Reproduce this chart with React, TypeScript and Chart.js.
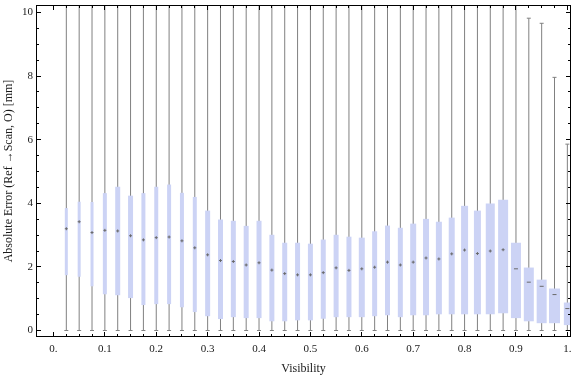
import React, { useEffect, useRef } from "react";
import { Chart, registerables } from "chart.js";

Chart.register(...registerables);

// ---- data ----
const visibility = [
  0.025, 0.05, 0.075, 0.1, 0.125, 0.15, 0.175, 0.2, 0.225, 0.25,
  0.275, 0.3, 0.325, 0.35, 0.375, 0.4, 0.425, 0.45, 0.475, 0.5,
  0.525, 0.55, 0.575, 0.6, 0.625, 0.65, 0.675, 0.7, 0.725, 0.75,
  0.775, 0.8, 0.825, 0.85, 0.875, 0.9, 0.925, 0.95, 0.975, 1.0,
];
const lowerQuartile = [
  1.74, 1.69, 1.39, 1.14, 1.11, 1.02, 0.8, 0.83, 0.83, 0.73,
  0.58, 0.45, 0.36, 0.42, 0.39, 0.39, 0.29, 0.29, 0.32, 0.32,
  0.37, 0.42, 0.42, 0.42, 0.45, 0.48, 0.42, 0.48, 0.48, 0.51,
  0.51, 0.51, 0.51, 0.51, 0.54, 0.39, 0.29, 0.23, 0.23, 0.17,
];
const medianValues = [
  3.2, 3.42, 3.08, 3.15, 3.13, 2.98, 2.85, 2.92, 2.94, 2.82,
  2.6, 2.38, 2.2, 2.17, 2.06, 2.13, 1.9, 1.79, 1.75, 1.75,
  1.82, 1.97, 1.89, 1.94, 1.99, 2.15, 2.06, 2.15, 2.28, 2.25,
  2.41, 2.53, 2.42, 2.5, 2.54, 1.94, 1.52, 1.39, 1.13, 0.69,
];
const upperQuartile = [
  3.85, 4.05, 4.04, 4.32, 4.52, 4.24, 4.32, 4.52, 4.59, 4.33,
  4.2, 3.77, 3.49, 3.45, 3.29, 3.45, 3.01, 2.76, 2.76, 2.73,
  2.86, 3.01, 2.95, 2.92, 3.12, 3.3, 3.23, 3.36, 3.51, 3.42,
  3.55, 3.92, 3.77, 3.99, 4.11, 2.76, 1.98, 1.6, 1.32, 0.88,
];
const whiskerLow = [
  0, 0, 0, 0, 0, 0, 0, 0, 0, 0,
  0, 0, 0, 0, 0, 0, 0, 0, 0, 0,
  0, 0, 0, 0, 0, 0, 0, 0, 0, 0,
  0, 0, 0, 0, 0, 0, 0, 0, 0, 0,
];
const whiskerHigh = [
  11, 11, 11, 11, 11, 11, 11, 11, 11, 11,
  11, 11, 11, 11, 11, 11, 11, 11, 11, 11,
  11, 11, 11, 11, 11, 11, 11, 11, 11, 11,
  11, 11, 11, 11, 11, 11, 9.82, 9.66, 7.96, 5.86,
];
const yTickValues = [0, 2, 4, 6, 8, 10];
const yMinorTickValues = [
  0.5, 1, 1.5, 2.5, 3, 3.5, 4.5, 5, 5.5, 6.5, 7, 7.5, 8.5, 9, 9.5,
];
const xTickValues = [0, 0.1, 0.2, 0.3, 0.4, 0.5, 0.6, 0.7, 0.8, 0.9, 1.0];
const xTickLabels = ["0.", "0.1", "0.2", "0.3", "0.4", "0.5", "0.6", "0.7", "0.8", "0.9", "1."];

// ---- styles ----
const boxWidths = [
  3, 3, 3, 4, 5, 5, 4, 4, 4, 4,
  4, 5, 5, 5, 5, 5, 5, 5, 5, 5,
  5, 5, 5, 6, 5, 5, 5, 6, 6, 6,
  6, 7, 7, 9, 10, 10, 10, 10, 11, 7,
];
const BOX_COLOR = "rgb(204,211,245)";
const WHISKER_COLOR = "rgb(128,128,128)";
const MEDIAN_COLOR = "rgb(105,105,105)";
const FONT = "'Liberation Serif', 'Times New Roman', serif";
const TEXT_COLOR = "#1a1a1a";

const frameTicks = {
  id: "frameTicks",
  afterDatasetsDraw(chart: any) {
    const { ctx, chartArea: a, scales } = chart;
    const x = scales.x;
    const y = scales.y;
    ctx.save();
    ctx.strokeStyle = "#000";
    ctx.lineWidth = 1;
    ctx.beginPath();
    const xt = (v: number, len: number) => {
      const px = Math.floor(x.getPixelForValue(v)) + 0.5;
      ctx.moveTo(px, a.bottom);
      ctx.lineTo(px, a.bottom - len);
      ctx.moveTo(px, a.top);
      ctx.lineTo(px, a.top + len);
    };
    const yt = (v: number, len: number) => {
      const py = Math.floor(y.getPixelForValue(v)) + 0.5;
      ctx.moveTo(a.left, py);
      ctx.lineTo(a.left + len, py);
      ctx.moveTo(a.right, py);
      ctx.lineTo(a.right - len, py);
    };
    xTickValues.forEach((v) => xt(v, 5));
    visibility.forEach((v) => {
      if (!xTickValues.some((m) => Math.abs(m - v) < 1e-6)) xt(v, 3);
    });
    yTickValues.forEach((v) => yt(v, 5));
    yMinorTickValues.forEach((v) => yt(v, 3));
    ctx.stroke();
    ctx.strokeRect(a.left + 0.5, a.top + 0.5, a.right - a.left - 1, a.bottom - a.top - 1);
    ctx.restore();
  },
};

export default function App() {
  const ref = useRef<HTMLCanvasElement | null>(null);

  useEffect(() => {
    if (!ref.current) return;
    const whiskers: any = {
      type: "bar",
      data: visibility.map((v, i) => ({ x: v, y: [whiskerLow[i], whiskerHigh[i]] })),
      backgroundColor: WHISKER_COLOR,
      barThickness: 1,
      grouped: false,
      inflateAmount: 0,
      order: 4,
    };
    const boxes: any[] = visibility.map((v, i) => ({
      type: "bar",
      data: [{ x: v, y: [lowerQuartile[i], upperQuartile[i]] }],
      backgroundColor: BOX_COLOR,
      barThickness: boxWidths[i],
      grouped: false,
      inflateAmount: 0,
      order: 3,
    }));
    const caps: any = {
      type: "scatter",
      data: [
        ...visibility.map((v, i) => ({ x: v, y: whiskerLow[i] })),
        ...visibility.map((v, i) => ({ x: v, y: whiskerHigh[i] })),
      ],
      pointStyle: "line",
      pointRadius: 2,
      borderColor: WHISKER_COLOR,
      borderWidth: 1,
      order: 2,
    };
    const medians: any = {
      type: "scatter",
      data: visibility.map((v, i) => ({ x: v, y: medianValues[i] })),
      pointStyle: visibility.map((v) => (v >= 0.9 ? "line" : "cross")),
      pointRadius: visibility.map((v) => (v >= 0.9 ? 2 : 1.5)),
      borderColor: MEDIAN_COLOR,
      backgroundColor: MEDIAN_COLOR,
      borderWidth: 1,
      order: 1,
    };

    const chart = new Chart(ref.current, {
      type: "bar",
      data: { datasets: [medians, caps, ...boxes, whiskers] },
      plugins: [frameTicks],
      options: {
        animation: false,
        responsive: false,
        events: [],
        layout: { padding: { top: 4, right: 1, left: 0, bottom: 0 } },
        plugins: { legend: { display: false }, tooltip: { enabled: false } },
        scales: {
          x: {
            type: "linear",
            offset: false,
            min: -0.034,
            max: 1.0071,
            grid: { display: false, drawTicks: false },
            border: { display: false },
            afterBuildTicks: (s: any) => {
              s.ticks = xTickValues.map((v) => ({ value: v }));
            },
            afterFit: (s: any) => {
              s.height = 40;
              s.paddingLeft = 0;
              s.paddingRight = 0;
            },
            ticks: {
              autoSkip: false,
              maxRotation: 0,
              padding: 6,
              color: TEXT_COLOR,
              font: { family: FONT, size: 11 },
              callback: (_v: any, i: number) => xTickLabels[i],
            },
            title: {
              display: true,
              text: "Visibility",
              color: TEXT_COLOR,
              font: { family: FONT, size: 12 },
              padding: { top: 0, bottom: 1 },
            },
          },
          y: {
            type: "linear",
            min: -0.204,
            max: 10.235,
            grid: { display: false, drawTicks: false },
            border: { display: false },
            afterBuildTicks: (s: any) => {
              s.ticks = yTickValues.map((v) => ({ value: v }));
            },
            afterFit: (s: any) => {
              s.width = 36;
              s.paddingTop = 0;
              s.paddingBottom = 0;
            },
            ticks: {
              padding: 3,
              color: TEXT_COLOR,
              font: { family: FONT, size: 11 },
              callback: (v: any) => String(v),
            },
            title: {
              display: true,
              text: "Absolute Error (Ref \u2192Scan, O) [mm]",
              color: TEXT_COLOR,
              font: { family: FONT, size: 12 },
              padding: { top: 1.5, bottom: 0 },
            },
          },
        },
      },
    } as any);
    return () => chart.destroy();
  }, []);

  return (
    <div style={{ position: "absolute", left: 0, top: 0, width: 576, height: 377, background: "#fff" }}>
      <canvas ref={ref} width={576} height={377} style={{ display: "block" }} />
    </div>
  );
}
